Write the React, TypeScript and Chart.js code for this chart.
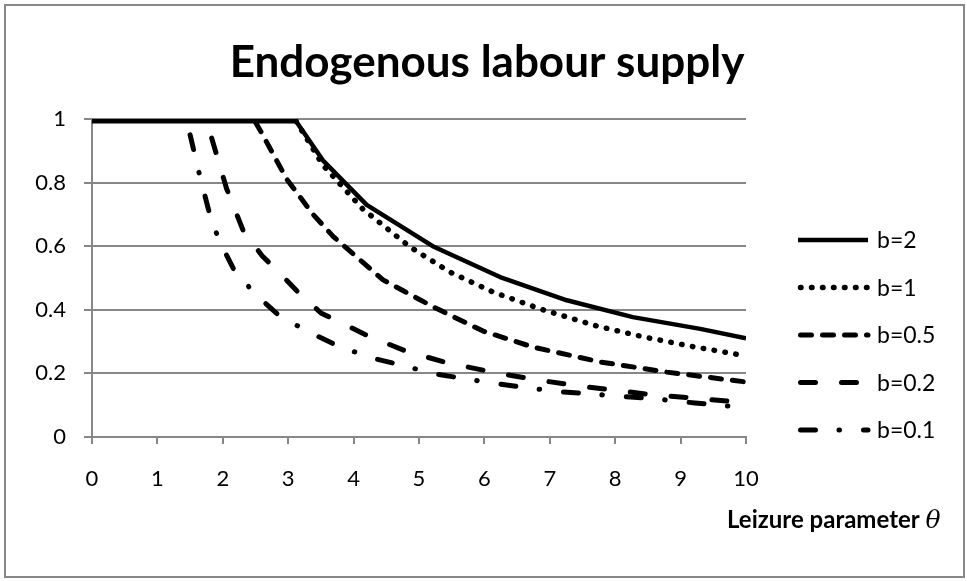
import React, { useEffect, useRef } from "react";
import { Chart, registerables } from "chart.js";

Chart.register(...registerables);

const chartTitle = "Endogenous labour supply";
const xAxisTitle = "Leizure parameter ";
const xAxisSymbol = "θ";
const seriesLabels = ["b=2", "b=1", "b=0.5", "b=0.2", "b=0.1"];

const xTicksMin = 0;
const xTicksMax = 10;
const yTicksMin = 0;
const yTicksMax = 1;

const thetaB2 = [0, 3.12, 3.53, 4.2, 5.21, 6.24, 7.26, 8.27, 9.3, 10];
const laborB2 = [0.993, 0.993, 0.87, 0.73, 0.6, 0.503, 0.43, 0.377, 0.34, 0.31];

const thetaB1 = [3.12, 3.53, 4.14, 4.86, 5.47, 6.13, 6.85, 7.72, 8.43, 9.14, 10];
const laborB1 = [0.993, 0.855, 0.717, 0.598, 0.519, 0.456, 0.403, 0.349, 0.315, 0.286, 0.255];

const thetaB05 = [2.5, 2.57, 2.98, 3.38, 3.69, 4.45, 5.21, 5.98, 6.74, 7.77, 8.79, 10];
const laborB05 = [0.99, 0.965, 0.81, 0.7, 0.63, 0.494, 0.41, 0.333, 0.283, 0.236, 0.204, 0.173];

const thetaB02 = [1.83, 1.93, 2.06, 2.31, 2.6, 2.8, 3.13, 3.5, 3.8, 4.2, 4.8, 5.4, 6.1, 6.7, 7.35, 8, 8.6, 9.25, 10];
const laborB02 = [0.94, 0.87, 0.78, 0.65, 0.57, 0.53, 0.46, 0.39, 0.36, 0.32, 0.27, 0.235, 0.205, 0.183, 0.163, 0.147, 0.132, 0.122, 0.107];

const thetaB01 = [1.5, 1.65, 1.8, 1.94, 2.16, 2.49, 2.87, 3.32, 3.72, 4.25, 4.75, 5.21, 5.7, 6.22, 6.7, 7.2, 7.7, 8.23, 8.7, 9.22, 9.7, 10];
const laborB01 = [0.95, 0.82, 0.7, 0.62, 0.53, 0.45, 0.38, 0.33, 0.29, 0.25, 0.225, 0.2, 0.183, 0.167, 0.153, 0.142, 0.134, 0.126, 0.118, 0.107, 0.098, 0.092];

const seriesTheta = [thetaB2, thetaB1, thetaB05, thetaB02, thetaB01];
const seriesLabor = [laborB2, laborB1, laborB05, laborB02, laborB01];

const dashes: number[][] = [[], [0.5, 10.5], [11, 11], [15, 26], [15, 23.5, 0.5, 24]];
const widths = [4.5, 5.5, 5, 5, 5];

const GRID = "#878787";
const FONT = "Lato, 'Open Sans', sans-serif";

const extras = {
  id: "extras",
  afterDraw(chart: any) {
    const ctx = chart.ctx as CanvasRenderingContext2D;
    ctx.save();
    // outer frame
    ctx.strokeStyle = GRID;
    ctx.lineWidth = 2;
    ctx.strokeRect(5, 5, 959, 572);
    // title
    ctx.fillStyle = "#000";
    ctx.font = `bold 44px ${FONT}`;
    ctx.textAlign = "center";
    ctx.textBaseline = "alphabetic";
    ctx.fillText(chartTitle, 487, 77);
    // x axis title
    ctx.textAlign = "left";
    ctx.font = `bold 24px ${FONT}`;
    ctx.fillText(xAxisTitle, 727, 528);
    const w = ctx.measureText(xAxisTitle).width;
    ctx.font = `italic 25px 'DejaVu Serif', 'Liberation Serif', serif`;
    ctx.fillText(xAxisSymbol, 727 + w, 528);
    // legend
    const ds = chart.data.datasets;
    for (let i = 0; i < ds.length; i++) {
      const y = 240 + i * 47.5;
      ctx.beginPath();
      ctx.strokeStyle = "#000";
      ctx.lineWidth = widths[i];
      ctx.lineCap = i === 0 ? "butt" : "round";
      ctx.setLineDash(dashes[i]);
      ctx.moveTo(i === 0 ? 798 : 800.5, y);
      ctx.lineTo(868, y);
      ctx.stroke();
      ctx.setLineDash([]);
      ctx.font = `23px ${FONT}`;
      ctx.textBaseline = "middle";
      ctx.fillStyle = "#000";
      ctx.fillText(ds[i].label, 877, y + 1);
    }
    ctx.restore();
  },
};

const fmt = (v: any) => String(Number(Number(v).toFixed(2)));

export default function App() {
  const ref = useRef<HTMLCanvasElement | null>(null);
  useEffect(() => {
    document.body.style.margin = "0";
    const canvas = ref.current!;
    const datasets = seriesLabels.map((label, i) => ({
      label,
      data: seriesTheta[i].map((x, j) => ({ x, y: seriesLabor[i][j] })),
      borderColor: "#000",
      backgroundColor: "#000",
      borderWidth: widths[i],
      borderDash: dashes[i],
      borderCapStyle: i === 0 ? "butt" : "round",
      borderJoinStyle: "round",
      pointRadius: 0,
      tension: 0,
      fill: false,
      order: seriesLabels.length - i,
    }));
    const chart = new Chart(canvas, {
      type: "line",
      data: { datasets } as any,
      options: {
        responsive: false,
        animation: false,
        layout: { padding: { top: 119, right: 221, bottom: 0, left: 0 } },
        plugins: { legend: { display: false }, title: { display: false }, tooltip: { enabled: false } },
        scales: {
          x: {
            type: "linear",
            min: xTicksMin,
            max: xTicksMax,
            ticks: { stepSize: 1, color: "#000", font: { family: FONT, size: 22 }, padding: 22, maxRotation: 0, callback: fmt },
            grid: { drawOnChartArea: false, drawTicks: true, tickLength: 7, color: GRID, lineWidth: 2 },
            border: { display: true, color: GRID, width: 2 },
            afterFit: (s: any) => { s.height = 144; },
          },
          y: {
            type: "linear",
            min: yTicksMin,
            max: yTicksMax,
            ticks: { stepSize: 0.2, color: "#000", font: { family: FONT, size: 22 }, padding: 18, callback: fmt },
            grid: { drawTicks: true, tickLength: 8, color: GRID, lineWidth: 2 },
            border: { display: true, color: GRID, width: 2 },
            afterFit: (s: any) => { s.width = 92; },
          },
        },
      },
      plugins: [extras],
    } as any);
    return () => chart.destroy();
  }, []);
  return (
    <div style={{ width: 967, height: 581, background: "#fff" }}>
      <canvas ref={ref} width={967} height={581} style={{ display: "block" }} />
    </div>
  );
}
